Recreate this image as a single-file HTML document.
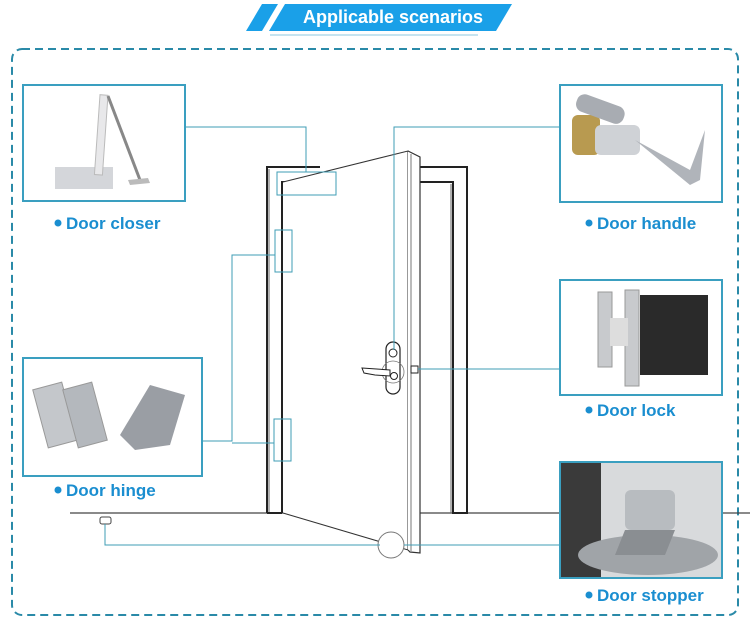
<!DOCTYPE html>
<html><head><style>
body{margin:0;width:750px;height:628px;background:#fff;overflow:hidden;font-family:"Liberation Sans",sans-serif}
</style></head><body>
<svg width="750" height="628" viewBox="0 0 750 628" xmlns="http://www.w3.org/2000/svg" font-family="Liberation Sans, sans-serif">
<polygon points="262,4 278,4 262,31 246,31" fill="#1aa0e8"/>
<polygon points="285,4 512,4 496,31 269,31" fill="#1aa0e8"/>
<line x1="270" y1="35" x2="478" y2="35" stroke="#8cc8e0" stroke-width="1"/>
<text x="393" y="23" font-size="18" font-weight="bold" fill="#fff" text-anchor="middle">Applicable scenarios</text>
<rect x="12" y="49" width="726" height="566" rx="10" fill="none" stroke="#2a8aa8" stroke-width="2" stroke-dasharray="8,5"/>
<line x1="70" y1="513" x2="750" y2="513" stroke="#444" stroke-width="1.2"/>
<path d="M267,513 V167 H320 M419,167 H467 V513 H453 V182 H419 M282,513 V182 H290" fill="none" stroke="#222" stroke-width="2"/>
<path d="M269,513 V169 M451,513 V184" fill="none" stroke="#666" stroke-width="1"/>
<line x1="267" y1="513" x2="282" y2="513" stroke="#222" stroke-width="2"/>
<path d="M283,182 L408,151 L408,550 L283,513" fill="#fff" stroke="#333" stroke-width="1"/>
<path d="M408,151 L420,157 L420,553 L410,552 L408,550" fill="#fff" stroke="#333" stroke-width="1.2"/>
<line x1="411" y1="154" x2="411" y2="551" stroke="#555" stroke-width="0.8"/>
<rect x="386" y="342" width="14" height="52" rx="7" fill="#fff" stroke="#222" stroke-width="1.2"/>
<circle cx="393" cy="353" r="4" fill="#fff" stroke="#222"/>
<circle cx="393" cy="372" r="11" fill="none" stroke="#777" stroke-width="0.8"/>
<path d="M362,368 L390,370 L390,376 L375,375 L364,373 Z" fill="#fff" stroke="#222"/>
<circle cx="394" cy="376" r="3.5" fill="#fff" stroke="#222"/>
<rect x="411" y="366" width="7" height="7" fill="#fff" stroke="#222"/>
<circle cx="391" cy="545" r="13" fill="#fff" stroke="#777"/>
<rect x="100" y="517" width="11" height="7" rx="2" fill="#fff" stroke="#444"/>
<g fill="none" stroke="#3f9db5" stroke-width="1">
<path d="M185,127 H306 V172"/>
<rect x="277" y="172" width="59" height="23"/>
<rect x="275" y="230" width="17" height="42"/>
<rect x="274" y="419" width="17" height="42"/>
<path d="M275,255 H232 V441 H202 M232,443 H274"/>
<path d="M560,127 H394 V350"/>
<path d="M418,369 H560"/>
<path d="M105,524 V545 H380 M404,545 H560"/>
</g>
<g fill="#fff" stroke="#3a9fc0" stroke-width="2">
<rect x="23" y="85" width="162" height="116"/>
<rect x="560" y="85" width="162" height="117"/>
<rect x="560" y="280" width="162" height="115"/>
<rect x="23" y="358" width="179" height="118"/>
<rect x="560" y="462" width="162" height="116"/>
</g>
<g>
<rect x="55" y="167" width="58" height="22" fill="#d4d6da"/>
<rect x="100" y="95" width="8" height="80" fill="#e8e8ea" stroke="#bbb" transform="rotate(4 104 95)"/>
<line x1="108" y1="96" x2="140" y2="180" stroke="#888" stroke-width="3"/>
<polygon points="128,180 148,178 150,183 130,185" fill="#bbb"/>
</g>
<g>
<rect x="572" y="115" width="28" height="40" rx="6" fill="#b89a50"/>
<rect x="595" y="125" width="45" height="30" rx="6" fill="#cfd2d6"/>
<path d="M635,140 L690,185 L700,180 L705,130 L690,170 Z" fill="#b0b4ba"/>
<rect x="575" y="100" width="50" height="18" rx="8" fill="#a8acb2" transform="rotate(20 600 110)"/>
</g>
<g>
<rect x="598" y="292" width="14" height="75" fill="#c8cacd" stroke="#999"/>
<rect x="625" y="290" width="14" height="96" fill="#c8cacd" stroke="#999"/>
<rect x="640" y="295" width="68" height="80" fill="#2a2a2a"/>
<rect x="610" y="318" width="18" height="28" fill="#ddd"/>
</g>
<g>
<rect x="40" y="385" width="30" height="60" fill="#c4c7cb" stroke="#999" transform="rotate(-15 55 415)"/>
<rect x="70" y="385" width="30" height="60" fill="#b4b8bd" stroke="#999" transform="rotate(-15 85 415)"/>
<path d="M120,435 L150,385 L185,395 L170,445 L135,450 Z" fill="#9a9ea4"/>
</g>
<g>
<rect x="561" y="463" width="40" height="114" fill="#3a3a3a"/>
<rect x="601" y="463" width="120" height="114" fill="#d8dadc"/>
<ellipse cx="648" cy="555" rx="70" ry="20" fill="#a0a4a8"/>
<rect x="625" y="490" width="50" height="40" rx="6" fill="#b8bcc0"/>
<polygon points="625,530 675,530 665,555 615,555" fill="#8a8e92"/>
</g>
<g font-size="17" font-weight="bold" fill="#1a8ed0">
<circle cx="58" cy="223" r="3.5" fill="#1a8ed0"/><text x="66" y="229">Door closer</text>
<circle cx="589" cy="223" r="3.5" fill="#1a8ed0"/><text x="597" y="229">Door handle</text>
<circle cx="589" cy="410" r="3.5" fill="#1a8ed0"/><text x="597" y="416">Door lock</text>
<circle cx="58" cy="490" r="3.5" fill="#1a8ed0"/><text x="66" y="496">Door hinge</text>
<circle cx="589" cy="595" r="3.5" fill="#1a8ed0"/><text x="597" y="601">Door stopper</text>
</g>
</svg>
</body></html>
